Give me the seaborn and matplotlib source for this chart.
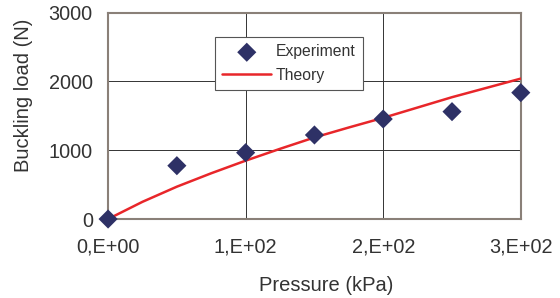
import pandas as pd
import seaborn as sns
import matplotlib
matplotlib.use('Agg')
import matplotlib.pyplot as plt
from matplotlib.ticker import FuncFormatter

# experiment points
exp_pressure = [0, 50, 100, 150, 200, 250, 300]
exp_load = [0, 775, 964, 1221, 1453, 1560, 1836]

# theory curve
th_pressure = [0, 25, 50, 75, 100, 125, 150, 175, 200, 225, 250, 275, 300]
th_load = [0, 250, 470, 665, 848, 1020, 1185, 1330, 1470, 1620, 1770, 1905, 2040]

x_ticks = [0, 100, 200, 300]
y_ticks = [0, 1000, 2000, 3000]

exp_df = pd.DataFrame({'Pressure': exp_pressure, 'Load': exp_load})
th_df = pd.DataFrame({'Pressure': th_pressure, 'Load': th_load})

sns.set_style('white')
plt.rcParams['font.family'] = ['Liberation Sans', 'DejaVu Sans']

fig = plt.figure(figsize=(5.6, 2.98), dpi=100)
ax = fig.add_axes([0.193, 0.265, 0.737, 0.693])

ax.grid(True, color='#333333', linewidth=0.7)
ax.set_axisbelow(True)

sns.lineplot(x='Pressure', y='Load', data=th_df, ax=ax, color='#e8262a',
             linewidth=1.8, label='Theory', zorder=3)
sns.scatterplot(x='Pressure', y='Load', data=exp_df, ax=ax, marker='D',
                color='#2e3166', s=95, edgecolor='none', label='Experiment',
                zorder=4, clip_on=False)

ax.set_xlim(0, 300)
ax.set_ylim(0, 3000)
ax.set_xticks(x_ticks)
ax.set_yticks(y_ticks)
ax.xaxis.set_major_formatter(FuncFormatter(lambda v, p: '%d,E+02' % (v / 100) if v else '0,E+00'))
ax.tick_params(labelsize=14.3, colors='#333333', length=0)
ax.tick_params(axis='x', pad=13)
ax.tick_params(axis='y', pad=11)

for s in ax.spines.values():
    s.set_color('#8a8078')
    s.set_linewidth(1.5)

ax.set_xlabel('Pressure (kPa)', fontsize=14.5, color='#333333')
ax.set_ylabel('Buckling load (N)', fontsize=14.5, color='#333333')
ax.xaxis.set_label_coords(0.528, -0.275)
ax.yaxis.set_label_coords(-0.182, 0.60)

handles, labels = ax.get_legend_handles_labels()
order = [labels.index('Experiment'), labels.index('Theory')]
leg = ax.legend([handles[i] for i in order], [labels[i] for i in order],
                loc='upper left', bbox_to_anchor=(0.260, 0.88), frameon=True,
                fancybox=False, framealpha=1, edgecolor='#555555', fontsize=11.3,
                handlelength=3.1, handletextpad=0.3, borderpad=0.45,
                borderaxespad=0, labelspacing=0.55)
leg.get_frame().set_linewidth(0.8)
for t in leg.get_texts():
    t.set_color('#333333')

fig.savefig('out.png', dpi=100)
